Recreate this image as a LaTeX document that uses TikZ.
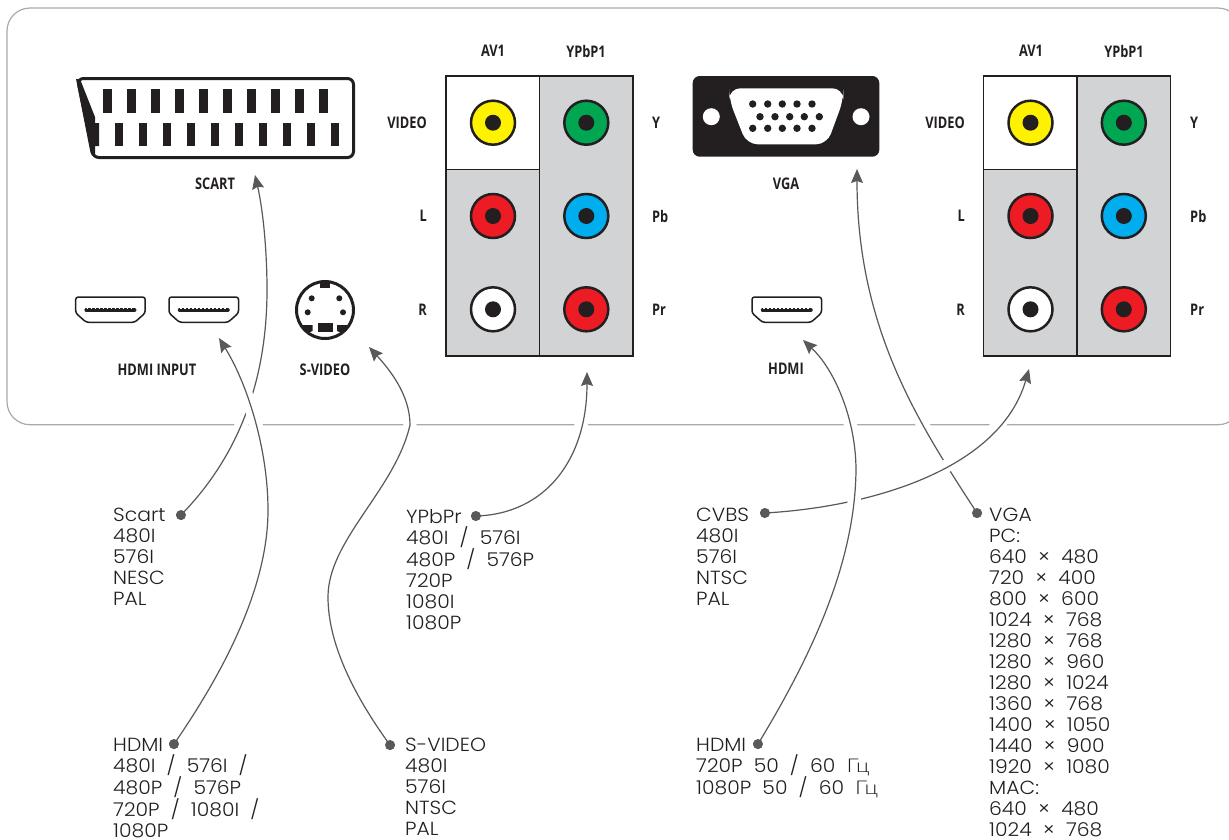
\documentclass[tikz,border=0pt]{standalone}
\usepackage{fontspec}
\usetikzlibrary{arrows.meta}
\newfontfamily\capf[FakeStretch=0.80]{Open Sans}
\newfontfamily\bodyf[FakeStretch=1.07]{Poppins Light}
\newfontfamily\cyrf[FakeStretch=1.2]{Lato Light}
\definecolor{ink}{HTML}{231F20}
\definecolor{arrowgrey}{HTML}{58595B}
\definecolor{framegrey}{HTML}{A7A9AC}
\definecolor{panelgrey}{HTML}{D1D3D4}
\definecolor{jyellow}{HTML}{FFF200}
\definecolor{jgreen}{HTML}{00A651}
\definecolor{jred}{HTML}{ED1C24}
\definecolor{jblue}{HTML}{00AEEF}
\tikzset{
  x=1pt,y=-1pt,
  caplabel/.style={font=\capf\fontsize{16}{18}\selectfont\bfseries,text=ink,inner sep=0pt},
  capleft/.style={caplabel,anchor=west},
  capright/.style={caplabel,anchor=east},
  bodytext/.style={font=\bodyf\fontsize{19}{21}\selectfont,text=ink,inner sep=0pt,align=left,anchor=north west},
  dotnode/.style={circle,fill=arrowgrey,inner sep=0pt,minimum size=10pt},
  feed/.style={draw=arrowgrey,line width=1.2pt,-{Stealth[length=14pt,width=12pt,inset=2pt]},
    preaction={draw=white,line width=13pt,-}},
  jack/.style={circle,draw=ink,line width=2.5pt,minimum size=44pt,inner sep=0pt},
  hole/.style={circle,fill=ink,inner sep=0pt,minimum size=16pt},
  panelline/.style={draw=ink,line width=1.2pt},
  hdmiport/.pic={
    \draw[ink,line width=1.5pt,fill=white,rounded corners=2.5pt]
      (0,0) -- (69.5,0) -- (69.5,16) -- (59,25.3) -- (10.5,25.3) -- (0,16) -- cycle;
    \draw[ink,line width=3.5pt,line cap=round] (10.5,13) -- (59,13);
    \draw[white,line width=.5pt,dash pattern=on 1.5pt off 2.5pt] (11,11.2) -- (59,11.2);
  },
  rcapanel/.pic={
    \fill[panelgrey] (0,0) rectangle (187,280);
    \fill[white] (0,0) rectangle (93.5,93.5);
    \draw[panelline] (0,0) rectangle (187,280);
    \draw[panelline] (93.5,0) -- (93.5,280) (0,93.5) -- (93.5,93.5);
    \foreach \px/\py/\col in {47/46.7/jyellow,140.3/46.7/jgreen,47/140/jred,140.3/140/jblue,47/233.3/white,140.3/233.3/jred}{
      \node[jack,fill=\col] at (\px,\py) {};
      \node[hole] at (\px,\py) {};
    }
  }
}
\begin{document}
\begin{tikzpicture}
\useasboundingbox (0,0) rectangle (1229,839);
% housing
\draw[framegrey,line width=1.2pt,rounded corners=23pt] (7,8) rectangle (1241,424.7);
% anchors
\node[dotnode] (dScart) at (181,515) {};
\node[dotnode] (dHdmiA) at (174,744) {};
\node[dotnode] (dSvideo) at (390,745) {};
\node[dotnode] (dYpbpr) at (476,516) {};
\node[dotnode] (dCvbs) at (765,513) {};
\node[dotnode] (dHdmiB) at (758,744) {};
\node[dotnode] (dVga) at (977,513) {};
\coordinate (tScart) at (255,175);
\coordinate (tHdmiA) at (219,338);
\coordinate (tSvideo) at (369,347);
\coordinate (tYpbpr) at (587,372);
\coordinate (tCvbs) at (1029,369);
\coordinate (tHdmiB) at (803,340);
\coordinate (tVga) at (857,169);
\coordinate (mScart) at (267,290);
\coordinate (mHdmiA) at (268,510);
\coordinate (mSvideoA) at (328,597);
\coordinate (mSvideoB) at (410,425);
\coordinate (mHdmiB) at (856,470);
% connectors (order sets which line breaks at a crossing)
\draw[feed] (dScart.center) .. controls (225,470) and (267,400) .. (mScart) .. controls (267,250) and (263,210) .. (tScart);
\draw[feed] (dHdmiA.center) .. controls (232,660) and (268,580) .. (mHdmiA) .. controls (268,450) and (248,385) .. (tHdmiA);
\draw[feed] (dSvideo.center) .. controls (350,690) and (328,640) .. (mSvideoA) .. controls (328,540) and (395,490) .. (mSvideoB) .. controls (410,395) and (390,370) .. (tSvideo);
\draw[feed] (dYpbpr.center) .. controls (545,514) and (587,460) .. (tYpbpr);
\draw[feed] (dVga.center) .. controls (920,425) and (857,330) .. (tVga);
\draw[feed] (dCvbs.center) .. controls (870,507) and (1000,470) .. (tCvbs);
\draw[feed] (dHdmiB.center) .. controls (815,650) and (855,560) .. (mHdmiB) .. controls (856,420) and (835,370) .. (tHdmiB);
\foreach \d in {dScart,dHdmiA,dSvideo,dYpbpr,dCvbs,dHdmiB,dVga} \fill[arrowgrey] (\d) circle (5);
% SCART
\draw[ink,line width=3pt,rounded corners=6pt,fill=white] (77.5,78.5) -- (353.5,78.5) -- (353.5,157.5) -- (93,157.5) -- cycle;
\fill[ink] (76,79) -- (80,79) -- (95,117) -- (95,123) -- (99,123) -- (99,146) -- (95,146) -- (95,157) -- (91,152) -- cycle;
\foreach \i in {0,...,9}{
  \fill[ink] (103.3+24*\i,89.3) rectangle +(8.3,23.4);
  \fill[ink] (115+24*\i,122.7) rectangle +(8.3,23.4);
}
% HDMI ports
\pic at (75.7,297) {hdmiport};
\pic at (169,297) {hdmiport};
\pic at (752,297) {hdmiport};
% S-video
\draw[ink,line width=3pt,fill=white] (325,310) circle (28.5);
\fill[ink] (320,281) rectangle (329.5,288);
\foreach \px/\py in {311.7/298.3,339.3/298.3,307.7/312.3,343/312.3} \fill[ink] (\px,\py) circle (3);
\fill[ink] (317.7,323.3) rectangle (333.3,331.7);
\fill[ink] (301.5,325) -- (312.5,325) -- (312.5,331) -- (308,333) -- cycle;
\fill[ink] (348.5,325) -- (337,325) -- (337,331) -- (342,333) -- cycle;
% RCA panels
\pic at (446,76) {rcapanel};
\pic at (983.5,76) {rcapanel};
% VGA
\fill[ink,rounded corners=7pt] (692.7,76) rectangle (879.3,156.7);
\fill[white] (711.3,116.7) circle (8.5) (861,116.7) circle (8.5);
\fill[white,rounded corners=11pt] (729.3,88.3) -- (843.3,88.3) -- (843.3,100) -- (827,144.3) -- (746.7,144.3) -- (729.3,100) -- cycle;
\foreach \px in {752.7,767.7,782.3,797,812}{
  \fill[ink] (\px,104) circle (3.7);
  \fill[ink] (\px,128.3) circle (3.7);
}
\foreach \px in {760,775,789.7,804.3,819.3} \fill[ink] (\px,116.7) circle (3.7);
% device labels
\node[caplabel] (lScart) at (215,184) {SCART};
\node[caplabel] (lHdmiIn) at (157,370) {HDMI INPUT};
\node[caplabel] (lSv) at (325,370) {S-VIDEO};
\node[caplabel] (lVga) at (786,184) {VGA};
\node[caplabel] (lHdmi) at (786,369) {HDMI};
\node[caplabel] (lAvA) at (493,51) {AV1};
\node[caplabel] (lYpA) at (586,51) {YPbP1};
\node[caplabel] (lAvB) at (1031,51) {AV1};
\node[caplabel] (lYpB) at (1124,51) {YPbP1};
\node[capright] (lVidA) at (427,123) {VIDEO};
\node[capright] (lLA) at (427,216) {L};
\node[capright] (lRA) at (427,310) {R};
\node[capleft] (lYA) at (652,123) {Y};
\node[capleft] (lPbA) at (652,216) {Pb};
\node[capleft] (lPrA) at (652,310) {Pr};
\node[capright] (lVidB) at (965,123) {VIDEO};
\node[capright] (lLB) at (965,216) {L};
\node[capright] (lRB) at (965,310) {R};
\node[capleft] (lYB) at (1190,123) {Y};
\node[capleft] (lPbB) at (1190,216) {Pb};
\node[capleft] (lPrB) at (1190,310) {Pr};
% format lists
\def\slh{\ \ /\ \ }
\def\sle{\ \ /}
\def\tm{\ \ ×\ \ }
\node[bodytext] (tScartL) at (113,508) {Scart\\480I\\576I\\NESC\\PAL};
\node[bodytext] (tYpbprL) at (406,509) {YPbPr\\480I\slh 576I\\480P\slh 576P\\720P\\1080I\\1080P};
\node[bodytext] (tCvbsL) at (696,508) {CVBS\\480I\\576I\\NTSC\\PAL};
\node[bodytext] (tVgaL) at (989,508) {VGA\\PC:\\640\tm 480\\720\tm 400\\800\tm 600\\1024\tm 768\\1280\tm 768\\1280\tm 960\\1280\tm 1024\\1360\tm 768\\1400\tm 1050\\1440\tm 900\\1920\tm 1080\\MAC:\\640\tm 480\\1024\tm 768};
\node[bodytext] (tHdmiAL) at (113,738) {HDMI\\480I\slh 576I\sle\\480P\slh 576P\\720P\slh 1080I\sle\\1080P};
\node[bodytext] (tSvL) at (405,738) {S-VIDEO\\480I\\576I\\NTSC\\PAL};
\node[bodytext] (tHdmiBL) at (696,738) {HDMI\\720P\ \ 50\slh 60\ \ {\cyrf Гц}\\1080P\ \ 50\slh 60\ \ {\cyrf Гц}};
\end{tikzpicture}
\end{document}
